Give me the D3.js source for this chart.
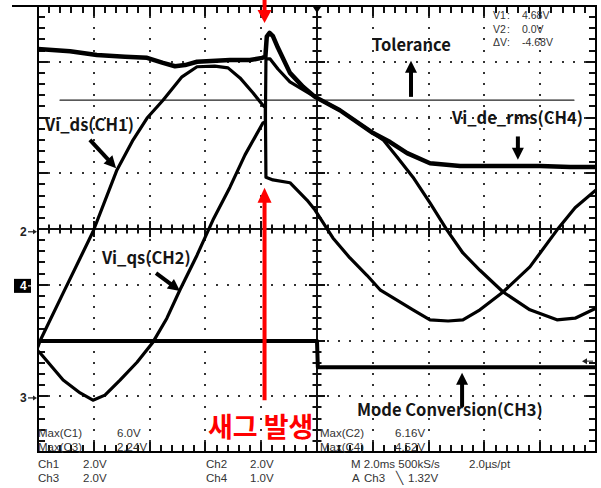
<!DOCTYPE html>
<html>
<head>
<meta charset="utf-8">
<script src="https://cdn.jsdelivr.net/npm/d3@7"></script>
<style>
  body { margin: 0; background: #fff; }
  svg { display: block; }
</style>
</head>
<body>
<div id="scope"></div>
<script>
// time in ms (2 ms/div), level in divisions from screen centre
const viDs = [[0,-2.11],[0.07,-2.01],[0.90,-1.15],[1.97,-0.05],[2.83,1.06],[3.41,1.60],[3.91,1.99],[4.48,2.31],[5.16,2.73],[5.70,2.91],[6.34,2.92],[6.81,2.89],[7.24,2.71],[7.71,2.44],[8.06,2.22],[8.15,2.18],[8.17,0.93],[8.42,0.88],[9.03,0.83],[9.64,0.52],[9.93,0.34],[10.57,-0.16],[11.18,-0.52],[11.79,-0.83],[12.26,-1.09],[13.44,-1.45],[14.05,-1.63],[14.70,-1.65],[15.23,-1.63],[15.84,-1.45],[16.67,-1.13],[17.63,-0.68],[18.60,-0.02],[19.25,0.38],[20,0.70]];
const viQs = [[0,-2.19],[0.07,-2.22],[0.90,-2.71],[1.51,-2.94],[1.97,-3.07],[2.40,-2.98],[2.94,-2.71],[3.55,-2.39],[4.12,-2.03],[4.62,-1.60],[5.09,-1.09],[5.70,-0.47],[6.27,0.16],[6.88,0.75],[7.42,1.33],[8.06,1.90],[8.15,1.92],[8.17,3.05],[8.32,3.05],[8.60,2.87],[9.03,2.64],[9.93,2.37],[10.82,2.13],[12.01,1.72],[12.37,1.60],[12.87,1.29],[13.44,0.93],[14.05,0.47],[14.66,-0.02],[15.23,-0.43],[15.84,-0.74],[16.67,-1.13],[17.63,-1.45],[18.60,-1.63],[19.25,-1.60],[20,-1.42]];
const viDeRms = [[0,3.23],[1.15,3.19],[2.11,3.12],[3.12,3.09],[3.91,3.07],[4.48,2.98],[4.91,2.92],[5.27,2.94],[5.70,3.00],[6.88,3.03],[7.60,3.03],[8.03,3.07],[8.15,3.09],[8.20,3.45],[8.30,3.52],[8.42,3.46],[8.60,3.25],[9.03,2.80],[9.50,2.55],[9.93,2.37],[10.82,2.13],[12.01,1.72],[12.62,1.56],[13.23,1.36],[14.05,1.18],[15.13,1.13],[16.56,1.13],[18.0,1.13],[19.07,1.11],[20,1.11]];
const modeConv = [[0,-2.01],[10.0,-2.01],[10.03,-2.48],[20,-2.48]];
const tolerance = [[0.79,2.31],[19.21,2.31]];

const chMarkers = [["2",-0.05,false],["4",-1.02,true],["3",-3.03,false]];
const maxReadsLeft = [["Max(C1)","6.0V"],["Max(C3)","2.24V"]];
const maxReadsRight = [["Max(C2)","6.16V"],["Max(C4)","4.52V"]];
const chScales = [["Ch1","2.0V","Ch2","2.0V"],["Ch3","2.0V","Ch4","1.0V"]];
const cursorReads = [["V1","4.68V"],["V2","0.0V"],["\u0394V","-4.68V"]];
const timebase = ["M 2.0ms 500kS/s","2.0\u00b5s/pt"];
const trigger = ["A","Ch3","\u2572","1.32V"];

// annotations in (ms, div): text anchor, arrow start, arrow tip
const labels = [
  { text: "Vi_ds(CH1)", at: [0.25,1.76], from: [1.86,1.60], to: [2.80,1.09] },
  { text: "Vi_qs(CH2)", at: [2.29,-0.63], from: [4.23,-0.79], to: [5.09,-1.11] },
  { text: "Tolerance", at: [11.97,3.19], from: [13.37,2.37], to: [13.37,3.02] },
  { text: "Vi_de_rms(CH4)", at: [14.84,1.88], from: [17.2,1.66], to: [17.2,1.24] },
  { text: "Mode Conversion(CH3)", at: [11.43,-3.35], from: [15.2,-3.19], to: [15.2,-2.58] }
];

const width = 601, height = 488;
const svg = d3.select("#scope").append("svg").attr("width", width).attr("height", height);

const x = d3.scaleLinear().domain([0, 20]).range([38, 596]);
const y = d3.scaleLinear().domain([-4, 4]).range([452, 6]);
const X0 = x(0), X1 = x(20), Y0 = y(4), Y1 = y(-4);

// dotted graticule
const dots = [];
d3.range(2, 20, 2).filter(t => t !== 10).forEach(t => {
  d3.range(-3.8, 4, 0.2).forEach(v => dots.push([t, v]));
});
d3.range(-3, 4, 1).filter(v => v !== 0).forEach(v => {
  d3.range(0.4, 20, 0.4).forEach(t => dots.push([t, v]));
});
svg.append("g").selectAll("rect").data(dots).enter().append("rect")
  .attr("x", d => Math.round(x(d[0])) - 1).attr("y", d => Math.round(y(d[1])) - 1)
  .attr("width", 2).attr("height", 2).attr("fill", "#333");

// ticks on frame and centre cross, as filled bars
const ticks = [];
const isMajorT = t => Math.abs(t / 2 - Math.round(t / 2)) < 1e-6;
const isMajorV = v => Math.abs(v - Math.round(v)) < 1e-6;
d3.range(0, 20.001, 0.4).forEach(t => {
  const len = isMajorT(t) ? 10 : 7;
  const c = isMajorT(t) ? 8 : 4.5;
  const xx = Math.round(x(t)) - 1;
  ticks.push([xx, Y0, 2, len]);
  ticks.push([xx, Y1 - len, 2, len]);
  ticks.push([xx, Math.round(y(0)) - c, 2, 2 * c]);
});
d3.range(-4, 4.001, 0.2).forEach(v => {
  const len = isMajorV(v) ? 10 : 7;
  const c = isMajorV(v) ? 8 : 4.5;
  const yy = Math.round(y(v)) - 1;
  ticks.push([X0, yy, len, 2]);
  ticks.push([X1 - len, yy, len, 2]);
  ticks.push([Math.round(x(10)) - c, yy, 2 * c, 2]);
});
ticks.push([Math.round(x(10)) - 1, Y0, 2, Y1 - Y0]);
ticks.push([X0, Math.round(y(0)) - 1, X1 - X0, 2]);
svg.append("g").selectAll("rect").data(ticks).enter().append("rect")
  .attr("x", d => d[0]).attr("y", d => d[1]).attr("width", d => d[2]).attr("height", d => d[3])
  .attr("fill", "#111");

svg.append("rect").attr("x", X0).attr("y", Y0).attr("width", X1 - X0).attr("height", Y1 - Y0)
  .attr("fill", "none").attr("stroke", "#000").attr("stroke-width", 2);
svg.append("line").attr("x1", 12).attr("x2", X0).attr("y1", Y0).attr("y2", Y0)
  .attr("stroke", "#000").attr("stroke-width", 2);

// trigger position and level markers
svg.append("path").attr("d", `M${x(10) - 4},${Y0 + 1}L${x(10) + 4},${Y0 + 1}L${x(10)},${Y0 + 7}Z`).attr("fill", "#000");
const trigY = y(-3.03 + 1.32 / 2);
svg.append("line").attr("x1", X1 - 3).attr("x2", X1 - 12).attr("y1", trigY).attr("y2", trigY).attr("stroke", "#222");
svg.append("path").attr("d", `M${X1 - 14},${trigY}L${X1 - 9},${trigY - 3}L${X1 - 9},${trigY + 3}Z`).attr("fill", "#222");

// channel ground markers
const markers = svg.append("g").attr("font-family", "Liberation Sans, Arial, sans-serif")
  .attr("font-size", 12).attr("font-weight", "bold");
chMarkers.forEach(([name, v, boxed]) => {
  const yy = y(v);
  if (boxed) {
    markers.append("rect").attr("x", 14).attr("y", yy - 7).attr("width", 17).attr("height", 14).attr("fill", "#000");
  }
  markers.append("text").attr("x", 20).attr("y", yy + 4.5).attr("fill", boxed ? "#fff" : "#222").text(name);
  markers.append("line").attr("x1", 28).attr("x2", 34).attr("y1", yy).attr("y2", yy)
    .attr("stroke", boxed ? "#fff" : "#222").attr("stroke-width", 1.2);
  markers.append("path").attr("d", `M${37},${yy}L${33},${yy - 2.5}L${33},${yy + 2.5}Z`).attr("fill", boxed ? "#fff" : "#222");
});

// traces
svg.append("clipPath").attr("id", "plot-clip").append("rect")
  .attr("x", X0).attr("y", Y0).attr("width", X1 - X0).attr("height", Y1 - Y0);
const line = d3.line().x(d => x(d[0])).y(d => y(d[1]));
const traces = svg.append("g").attr("clip-path", "url(#plot-clip)")
  .attr("fill", "none").attr("stroke", "#000").attr("stroke-linejoin", "round").attr("stroke-linecap", "round");
traces.append("path").attr("d", line(tolerance)).attr("stroke-width", 1.2).attr("stroke", "#222");
traces.append("path").attr("d", line(modeConv)).attr("stroke-width", 4);
traces.append("path").attr("d", line(viDeRms)).attr("stroke-width", 4.5);
traces.append("path").attr("d", line(viDs)).attr("stroke-width", 3.2);
traces.append("path").attr("d", line(viQs)).attr("stroke-width", 3.2);

function arrow(g, p0, p1, color, w, hl, hw) {
  const [x0, y0] = p0, [x1, y1] = p1;
  const len = Math.hypot(x1 - x0, y1 - y0);
  const ux = (x1 - x0) / len, uy = (y1 - y0) / len;
  const bx = x1 - ux * hl, by = y1 - uy * hl;
  g.append("line").attr("x1", x0).attr("y1", y0).attr("x2", bx + ux).attr("y2", by + uy)
    .attr("stroke", color).attr("stroke-width", w);
  g.append("path")
    .attr("d", `M${x1},${y1}L${bx - uy * hw / 2},${by + ux * hw / 2}L${bx + uy * hw / 2},${by - ux * hw / 2}Z`)
    .attr("fill", color);
}

// annotations
const notes = svg.append("g");
labels.forEach(l => {
  notes.append("text").attr("x", x(l.at[0])).attr("y", y(l.at[1]))
    .attr("font-family", "Noto Sans CJK KR, Noto Sans, sans-serif").attr("font-weight", "bold")
    .attr("font-size", 16.5).attr("fill", "#151515").text(l.text);
  arrow(notes, [x(l.from[0]), y(l.from[1])], [x(l.to[0]), y(l.to[1])], "#000", 4, 12, 12);
});

// sag event
arrow(notes, [x(8.12), 0], [x(8.12), 23], "#f00", 4, 13, 14);
arrow(notes, [x(8.12), y(-3.07)], [x(8.12), y(0.74)], "#f00", 4, 15, 14);
notes.append("text").attr("x", x(6.09)).attr("y", 437)
  .attr("font-family", "Noto Sans CJK KR, sans-serif").attr("font-weight", "bold")
  .attr("font-size", 27).attr("fill", "#f00").text("새그 발생");

// readouts
const info = svg.append("g").attr("font-family", "Liberation Sans, Arial, sans-serif")
  .attr("font-size", 11.5).attr("fill", "#333");
maxReadsLeft.forEach((r, i) => {
  info.append("text").attr("x", 38).attr("y", 437 + i * 14).text(r[0]);
  info.append("text").attr("x", 117).attr("y", 437 + i * 14).text(r[1]);
});
maxReadsRight.forEach((r, i) => {
  info.append("text").attr("x", 320).attr("y", 437 + i * 14).text(r[0]);
  info.append("text").attr("x", 395).attr("y", 437 + i * 14).text(r[1]);
});
chScales.forEach((r, i) => {
  const yy = 468 + i * 13.5;
  info.append("text").attr("x", 38).attr("y", yy).text(r[0]);
  info.append("text").attr("x", 83).attr("y", yy).text(r[1]);
  info.append("text").attr("x", 206).attr("y", yy).text(r[2]);
  info.append("text").attr("x", 250).attr("y", yy).text(r[3]);
});
info.append("text").attr("x", 351).attr("y", 468).text(timebase[0]);
info.append("text").attr("x", 469).attr("y", 468).text(timebase[1]);
[352, 364, 396, 408].forEach((xx, i) => {
  info.append("text").attr("x", xx).attr("y", 481.5).text(trigger[i]);
});
cursorReads.forEach((r, i) => {
  const yy = 19 + i * 13.5;
  info.append("text").attr("x", 493).attr("y", yy).attr("font-size", 10.5).text(r[0]);
  info.append("text").attr("x", 507).attr("y", yy).attr("font-size", 10.5).text(":");
  info.append("text").attr("x", 522).attr("y", yy).attr("font-size", 10.5).text(r[1]);
});
</script>
</body>
</html>
